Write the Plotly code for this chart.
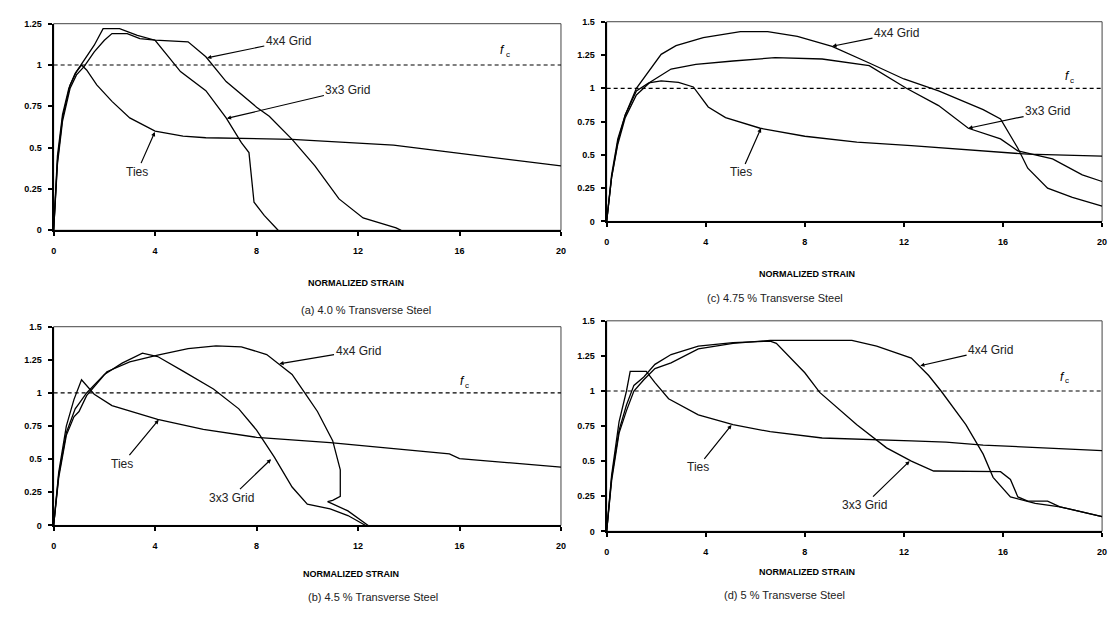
import plotly.graph_objects as go

# ---------------- data: normalized stress vs normalized strain ----------------
# (a) 4.0 % transverse steel
ties_a_x = [0, 0.15, 0.35, 0.6, 0.85, 1.1, 1.3, 1.7, 2.3, 3.0, 4.0, 5.1, 6.0, 9.4, 13.4, 15.8, 17.9, 20]
ties_a_y = [0, 0.45, 0.7, 0.86, 0.95, 1.0, 0.97, 0.88, 0.78, 0.68, 0.6, 0.57, 0.56, 0.55, 0.515, 0.47, 0.43, 0.39]
g3_a_x = [0, 0.15, 0.35, 0.65, 0.9, 1.2, 1.6, 1.95, 2.6, 3.3, 4.0, 5.0, 6.0, 6.8, 7.4, 7.7, 7.8, 7.9, 8.3, 8.85]
g3_a_y = [0, 0.42, 0.68, 0.88, 0.96, 1.03, 1.12, 1.22, 1.22, 1.18, 1.15, 0.96, 0.845, 0.68, 0.53, 0.47, 0.3, 0.17, 0.09, 0]
g4_a_x = [0, 0.15, 0.35, 0.65, 0.9, 1.2, 1.6, 2.0, 2.3, 2.9, 3.4, 4.0, 5.3, 6.0, 6.8, 8.0, 8.5, 9.4, 10.3, 11.25, 12.2, 13.5, 13.7]
g4_a_y = [0, 0.4, 0.66, 0.86, 0.94, 0.99, 1.08, 1.15, 1.19, 1.19, 1.16, 1.15, 1.14, 1.05, 0.9, 0.745, 0.69, 0.55, 0.39, 0.19, 0.075, 0.015, 0]

# (b) 4.5 % transverse steel
ties_b_x = [0, 0.2, 0.5, 0.8, 1.1, 1.6, 2.3, 3.3, 4.1, 5.9, 8.0, 10.9, 13.7, 15.6, 16.0, 18.0, 20]
ties_b_y = [0, 0.4, 0.75, 0.95, 1.1, 0.99, 0.905, 0.845, 0.8, 0.725, 0.665, 0.625, 0.575, 0.54, 0.505, 0.47, 0.44]
g3_b_x = [0, 0.2, 0.5, 0.85, 1.0, 1.3, 2.0, 2.7, 3.5, 4.1, 5.1, 6.3, 7.3, 8.0, 8.7, 9.4, 10.0, 10.9, 11.6, 12.3]
g3_b_y = [0, 0.38, 0.7, 0.88, 0.92, 1.0, 1.14, 1.225, 1.3, 1.275, 1.165, 1.03, 0.88, 0.72, 0.515, 0.29, 0.16, 0.125, 0.075, 0]
g4_b_x = [0, 0.2, 0.5, 0.8, 1.0, 1.3, 2.1, 3.0, 4.1, 5.3, 6.4, 7.4, 8.4, 9.4, 9.9, 10.4, 11.0, 11.3, 11.3, 11.0, 10.8, 11.6, 12.4]
g4_b_y = [0, 0.36, 0.68, 0.82, 0.86, 0.98, 1.16, 1.235, 1.285, 1.335, 1.355, 1.348, 1.29, 1.14, 1.0, 0.86, 0.64, 0.42, 0.22, 0.19, 0.18, 0.11, 0]

# (c) 4.75 % transverse steel
ties_c_x = [0, 0.2, 0.45, 0.75, 1.2, 1.7, 2.2, 2.9, 3.5, 4.1, 4.8, 6.2, 8.0, 10.1, 12.3, 15.2, 17.0, 20]
ties_c_y = [0, 0.35, 0.62, 0.8, 0.98, 1.04, 1.055, 1.045, 1.01, 0.86, 0.78, 0.7, 0.64, 0.595, 0.57, 0.53, 0.505, 0.49]
g3_c_x = [0, 0.2, 0.45, 0.75, 1.2, 1.75, 2.6, 3.6, 5.1, 6.8, 8.7, 10.6, 12.1, 13.4, 14.6, 15.9, 16.6, 18.0, 19.2, 20]
g3_c_y = [0, 0.33, 0.58, 0.78, 0.95, 1.045, 1.145, 1.18, 1.205, 1.23, 1.22, 1.17, 1.0, 0.87, 0.7, 0.62, 0.53, 0.47, 0.35, 0.3]
g4_c_x = [0, 0.2, 0.45, 0.75, 1.2, 1.6, 2.2, 2.8, 3.9, 5.4, 6.5, 7.7, 9.1, 10.6, 12.0, 13.4, 15.2, 15.9, 16.6, 17.0, 17.8, 18.8, 20]
g4_c_y = [0, 0.33, 0.6, 0.8, 1.0, 1.1, 1.255, 1.32, 1.38, 1.425, 1.425, 1.39, 1.315, 1.19, 1.07, 0.98, 0.84, 0.77, 0.55, 0.4, 0.25, 0.18, 0.115]

# (d) 5 % transverse steel
ties_d_x = [0, 0.2, 0.5, 0.8, 0.95, 1.6, 1.95, 2.5, 3.7, 5.1, 6.6, 8.7, 12.3, 13.7, 15.2, 20]
ties_d_y = [0, 0.4, 0.78, 1.0, 1.14, 1.14, 1.06, 0.945, 0.83, 0.76, 0.71, 0.665, 0.645, 0.635, 0.615, 0.575]
g3_d_x = [0, 0.2, 0.5, 0.8, 1.1, 1.5, 1.95, 2.6, 3.7, 5.1, 6.6, 6.85, 8.0, 8.6, 10.1, 11.3, 12.3, 13.2, 15.9, 16.3, 16.6, 17.0, 17.8, 18.3, 20]
g3_d_y = [0, 0.38, 0.72, 0.9, 1.04, 1.1, 1.19, 1.26, 1.32, 1.345, 1.355, 1.34, 1.13, 0.99, 0.76, 0.595, 0.5, 0.43, 0.425, 0.37, 0.245, 0.215, 0.215, 0.175, 0.105]
g4_d_x = [0, 0.2, 0.5, 0.8, 1.1, 1.5, 1.95, 2.6, 3.7, 5.1, 6.6, 9.9, 10.9, 12.3, 13.0, 13.5, 14.5, 15.2, 15.6, 16.3, 17.3, 18.3, 20]
g4_d_y = [0, 0.36, 0.7, 0.86, 1.0, 1.08, 1.16, 1.2, 1.3, 1.34, 1.36, 1.36, 1.32, 1.235, 1.11, 1.0, 0.76, 0.55, 0.385, 0.245, 0.2, 0.175, 0.105]

x_ticks = [0, 4, 8, 12, 16, 20]
captions = ["(a) 4.0 % Transverse Steel", "(b) 4.5 % Transverse Steel",
            "(c) 4.75 % Transverse Steel", "(d) 5 % Transverse Steel"]
y_max = [1.25, 1.5, 1.5, 1.5]

# curve labels: (text, text x, text y, tip x, tip y)
labels_a = [("4x4 Grid", 9.25, 1.145, 6.05, 1.043), ("3x3 Grid", 11.6, 0.85, 6.83, 0.677), ("Ties", 3.3, 0.355, 3.99, 0.595)]
labels_b = [("4x4 Grid", 12.0, 1.32, 8.9, 1.22), ("3x3 Grid", 7.0, 0.21, 8.57, 0.5), ("Ties", 2.71, 0.466, 4.14, 0.797)]
labels_c = [("4x4 Grid", 11.7, 1.414, 9.11, 1.316), ("3x3 Grid", 17.8, 0.826, 14.6, 0.7), ("Ties", 5.44, 0.368, 6.23, 0.7)]
labels_d = [("4x4 Grid", 15.5, 1.295, 12.66, 1.18), ("3x3 Grid", 10.4, 0.187, 12.23, 0.5), ("Ties", 3.67, 0.455, 5.04, 0.758)]
fc_pos = [(17.7, 1.09), (16.1, 1.09), (18.6, 1.09), (18.4, 1.1)]

# ---------------- layout geometry ----------------
W, H = 1119, 619
boxes = [  # left, right, top, bottom in pixels
    (51, 562, 19, 229),
    (51, 562, 327, 529),
    (608, 1107, 17, 220),
    (608, 1107, 321, 535),
]
title_y = [283, 585, 273, 583]
caption_y = [310, 610, 298, 608]
title_x = [305, 300, 860, 860]
caption_x = [298, 305, 848, 850]

panels = [
    (ties_a_x, ties_a_y, g3_a_x, g3_a_y, g4_a_x, g4_a_y, labels_a),
    (ties_b_x, ties_b_y, g3_b_x, g3_b_y, g4_b_x, g4_b_y, labels_b),
    (ties_c_x, ties_c_y, g3_c_x, g3_c_y, g4_c_x, g4_c_y, labels_c),
    (ties_d_x, ties_d_y, g3_d_x, g3_d_y, g4_d_x, g4_d_y, labels_d),
]

FONT = "Liberation Sans"
fig = go.Figure()
layout = dict(
    width=W, height=H, margin=dict(l=0, r=0, t=0, b=0),
    paper_bgcolor="white", plot_bgcolor="white", showlegend=False,
)
shapes, annotations = [], []

for i, (tx, ty, g3x, g3y, g4x, g4y, labs) in enumerate(panels):
    n = "" if i == 0 else str(i + 1)
    xa, ya = "x" + n, "y" + n
    l, r, t, b = boxes[i]
    line = dict(color="black", width=1.3)
    for xs, ys, name in ((tx, ty, "Ties"), (g3x, g3y, "3x3 Grid"), (g4x, g4y, "4x4 Grid")):
        fig.add_trace(go.Scatter(x=xs, y=ys, mode="lines", line=line, name=name,
                                 xaxis=xa, yaxis=ya, hoverinfo="skip"))

    common = dict(showgrid=False, zeroline=False, showline=True, linecolor="black",
                  linewidth=2, ticks="outside", ticklen=4, tickwidth=1.5, tickcolor="black",
                  tickfont=dict(family=FONT, size=9, color="black", weight="bold"))
    layout["xaxis" + n] = dict(common, domain=[l / W, r / W], range=[0, 20],
                               tickvals=x_ticks, anchor=ya, ticklabelstandoff=7)
    layout["yaxis" + n] = dict(common, domain=[1 - b / H, 1 - t / H], range=[0, y_max[i]],
                               dtick=0.25, anchor=xa, ticklabelstandoff=4)

    # frame and the f_c reference line
    shapes.append(dict(type="rect", xref=xa + " domain", yref=ya + " domain",
                       x0=0, x1=1, y0=0, y1=1, line=dict(color="#444", width=1), layer="below"))
    shapes.append(dict(type="line", xref=xa, yref=ya, x0=0, x1=20, y0=1, y1=1,
                       line=dict(color="black", width=1.2, dash="4px,3px")))

    for text, lx, ly, px, py in labs:
        annotations.append(dict(x=px, y=py, ax=lx, ay=ly, xref=xa, yref=ya, axref=xa, ayref=ya,
                                text=text, showarrow=True, arrowhead=2, arrowsize=0.7,
                                arrowwidth=1.2, arrowcolor="black",
                                font=dict(family=FONT, size=12, color="#222")))
    # f_c marker: italic f with a small c set slightly lower
    fx, fy = fc_pos[i]
    annotations.append(dict(x=fx, y=fy, xref=xa, yref=ya, showarrow=False, text="f",
                            font=dict(family=FONT, size=12, color="black", style="italic")))
    annotations.append(dict(x=fx, y=fy, xref=xa, yref=ya, showarrow=False, text="c",
                            xshift=5, yshift=-4, font=dict(family=FONT, size=8, color="black")))

    annotations.append(dict(x=title_x[i] / W, y=1 - title_y[i] / H, xref="paper", yref="paper",
                            showarrow=False, text="NORMALIZED STRAIN",
                            font=dict(family=FONT, size=9, color="black", weight="bold")))
    annotations.append(dict(x=caption_x[i] / W, y=1 - caption_y[i] / H, xref="paper", yref="paper",
                            showarrow=False, text=captions[i],
                            font=dict(family=FONT, size=11, color="#222")))

layout["shapes"] = shapes
layout["annotations"] = annotations
fig.update_layout(**layout)
fig.write_html("out.html")
